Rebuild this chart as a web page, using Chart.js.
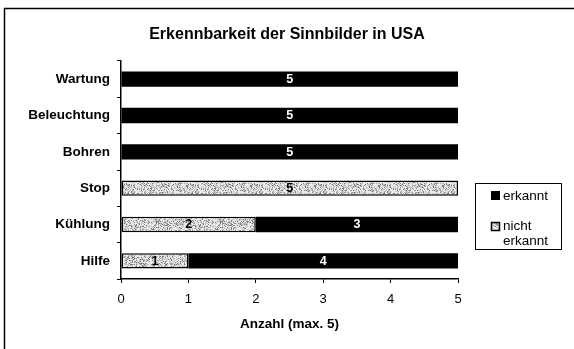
<!DOCTYPE html>
<html>
<head>
<meta charset="utf-8">
<script src="https://cdn.jsdelivr.net/npm/chart.js@4/dist/chart.umd.min.js"></script>
<style>
  html, body { margin: 0; padding: 0; background: #fff; }
  #wrap { width: 574px; height: 349px; position: relative; }
</style>
</head>
<body>
<div id="wrap"><canvas id="c" width="574" height="349"></canvas></div>
<script>
// Symbols and how many of 5 test persons recognised them
const categories = ['Wartung', 'Beleuchtung', 'Bohren', 'Stop', 'Kühlung', 'Hilfe'];
const nichtErkannt = [0, 0, 0, 5, 2, 1];
const erkannt = [5, 5, 5, 0, 3, 4];
const xTicks = [0, 1, 2, 3, 4, 5];
const chartTitle = 'Erkennbarkeit der Sinnbilder in USA';

const FONT = "'Liberation Sans', Arial, Helvetica, sans-serif";

// Stippled grey fill for the "nicht erkannt" bars
function makeStipple() {
  const size = 64;
  const cv = document.createElement('canvas');
  cv.width = size; cv.height = size;
  const g = cv.getContext('2d');
  const img = g.createImageData(size, size);
  for (let y = 0; y < size; y++) {
    for (let x = 0; x < size; x++) {
      let h = (x * 374761393 + y * 668265263) >>> 0;
      h = ((h ^ (h >>> 13)) * 1274126177) >>> 0;
      h = (h ^ (h >>> 16)) & 255;
      let v = 238;
      if (h < 50) v = 125;
      else if (h < 100) v = 185;
      else if (h < 145) v = 212;
      const i = (y * size + x) * 4;
      img.data[i] = v; img.data[i + 1] = v; img.data[i + 2] = v; img.data[i + 3] = 255;
    }
  }
  g.putImageData(img, 0, 0);
  return cv;
}

const ctx = document.getElementById('c').getContext('2d');
const stipple = ctx.createPattern(makeStipple(), 'repeat');

// Outer frame, centred title, value labels inside the bars and the boxed legend
const decorations = {
  id: 'decorations',
  beforeDraw(chart) {
    const c = chart.ctx;
    c.save();
    c.fillStyle = '#fff';
    c.fillRect(0, 0, chart.width, chart.height);
    c.strokeStyle = '#000';
    c.lineWidth = 1.5;
    c.beginPath();
    c.moveTo(4.5, chart.height + 2);
    c.lineTo(4.5, 8.5);
    c.lineTo(chart.width + 2, 8.5);
    c.stroke();
    c.fillStyle = '#000';
    c.font = 'bold 16px ' + FONT;
    c.textAlign = 'center';
    c.textBaseline = 'middle';
    c.fillText(chartTitle, 287, 35);
    c.restore();
  },
  afterDatasetsDraw(chart) {
    const c = chart.ctx;
    c.save();
    c.font = 'bold 12.5px ' + FONT;
    c.textAlign = 'center';
    c.textBaseline = 'middle';
    chart.data.datasets.forEach((ds, di) => {
      const meta = chart.getDatasetMeta(di);
      meta.data.forEach((el, i) => {
        const v = ds.data[i];
        if (!v) return;
        c.fillStyle = ds.labelColor;
        c.fillText(String(v), (el.x + el.base) / 2, el.y + 0.5);
      });
    });
    c.restore();

    // legend
    c.save();
    c.strokeStyle = '#000';
    c.lineWidth = 1;
    c.strokeRect(475.5, 183.5, 86, 66);
    c.fillStyle = '#000';
    c.fillRect(491, 191, 9, 9);
    c.fillStyle = stipple;
    c.fillRect(491, 222, 9, 9);
    c.strokeStyle = '#000';
    c.lineWidth = 1.5;
    c.strokeRect(491.5, 222.5, 8, 8);
    c.fillStyle = '#000';
    c.font = '13.5px ' + FONT;
    c.textAlign = 'left';
    c.textBaseline = 'middle';
    c.fillText(chart.data.datasets[1].label, 503, 196);
    c.fillText('nicht', 503, 226);
    c.fillText('erkannt', 503, 241);
    c.restore();
  }
};

new Chart(ctx, {
  type: 'bar',
  data: {
    labels: categories,
    datasets: [
      {
        label: 'nicht erkannt',
        data: nichtErkannt,
        backgroundColor: stipple,
        borderColor: '#000',
        borderWidth: 1.5,
        borderSkipped: false,
        labelColor: '#000',
        barPercentage: 0.42,
        categoryPercentage: 1
      },
      {
        label: 'erkannt',
        data: erkannt,
        backgroundColor: '#000',
        borderColor: '#000',
        borderWidth: 0,
        labelColor: '#fff',
        barPercentage: 0.42,
        categoryPercentage: 1
      }
    ]
  },
  options: {
    indexAxis: 'y',
    responsive: false,
    animation: false,
    devicePixelRatio: 1,
    layout: { padding: { left: 0, right: 116, top: 61, bottom: 0 } },
    plugins: {
      legend: { display: false },
      tooltip: { enabled: false },
      title: { display: false }
    },
    scales: {
      x: {
        stacked: true,
        min: 0,
        max: 5,
        afterFit(scale) { scale.height = 70; },
        afterBuildTicks(scale) { scale.ticks = xTicks.map(v => ({ value: v })); },
        grid: { drawOnChartArea: false, drawTicks: true, tickLength: 4, color: '#000', lineWidth: 1 },
        border: { display: true, color: '#000', width: 1.5 },
        ticks: { color: '#000', font: { family: FONT, size: 13 }, padding: 9, maxRotation: 0 },
        title: {
          display: true,
          text: 'Anzahl (max. 5)',
          color: '#000',
          font: { family: FONT, size: 13.5, weight: 'bold', lineHeight: 1.2 },
          padding: { top: 0, bottom: 16.4 }
        }
      },
      y: {
        stacked: true,
        offset: true,
        afterFit(scale) { scale.width = 121; },
        grid: { offset: true, drawOnChartArea: false, drawTicks: true, tickLength: 4, color: '#000', lineWidth: 1 },
        border: { display: true, color: '#000', width: 1.5 },
        ticks: { color: '#000', font: { family: FONT, size: 13.5, weight: 'bold' }, padding: 7 }
      }
    }
  },
  plugins: [decorations]
});
</script>
</body>
</html>
